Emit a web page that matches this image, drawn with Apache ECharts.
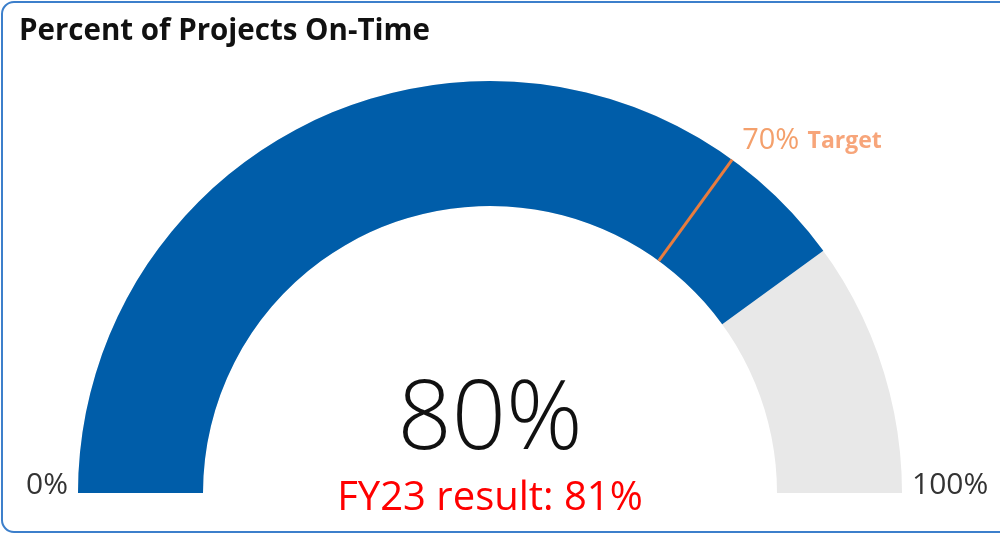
<!DOCTYPE html>
<html>
<head>
<meta charset="utf-8">
<script src="https://cdn.jsdelivr.net/npm/echarts@6/dist/echarts.min.js"></script>
<style>
  html, body { margin: 0; padding: 0; background: #fff; overflow: hidden; }
  #main { width: 1000px; height: 535px; }
</style>
</head>
<body>
<div id="main"></div>
<script type="text/javascript">
    // gauge data
    var scaleRange = [0, 100];        // min / max of the dial
    var actualValues = [80];          // current percent on-time
    var targetValues = [70];          // target marker
    var priorLabels = ['FY23 result'];
    var priorValues = [81];

    var myChart = echarts.init(document.getElementById('main'));

    var cx = 490, cy = 493, outerR = 412, bandW = 125;

    myChart.setOption({
        animation: false,
        title: {
            text: 'Percent of Projects On-Time',
            left: 14,
            top: 12,
            textStyle: { fontFamily: 'Open Sans', fontWeight: 'bold', fontSize: 29.5, color: '#111' }
        },
        graphic: [{
            type: 'rect',
            shape: { x: 2, y: 2, width: 1010, height: 530, r: 12 },
            style: { fill: 'none', stroke: '#3C7FCB', lineWidth: 2 },
            silent: true
        }],
        series: [{
            // main dial
            type: 'gauge',
            z: 2,
            center: [cx, cy],
            radius: outerR,
            startAngle: 180,
            endAngle: 0,
            min: scaleRange[0],
            max: scaleRange[1],
            splitNumber: 1,
            axisLine: { lineStyle: { width: bandW, color: [[1, '#E8E8E8']] } },
            progress: { show: true, width: bandW, itemStyle: { color: '#005DA9' } },
            pointer: { show: false },
            anchor: { show: false },
            axisTick: { show: false },
            splitLine: { show: false },
            axisLabel: {
                distance: -110,
                padding: [0, 0, 16, 0],
                fontFamily: 'Open Sans',
                fontSize: 30,
                color: '#333',
                formatter: function (v) {
                    return v === scaleRange[0] ? '{l|' + v + '%}' : '{r|' + v + '%}';
                },
                rich: {
                    l: { width: 80, align: 'right', fontFamily: 'Open Sans', fontSize: 30, color: '#333' },
                    r: { width: 80, align: 'left', fontFamily: 'Open Sans', fontSize: 30, color: '#333' }
                }
            },
            title: {
                offsetCenter: [0, 6],
                fontFamily: 'Open Sans',
                fontSize: 40,
                color: '#FF0000'
            },
            detail: {
                offsetCenter: [0, -71],
                formatter: '{value}%',
                fontFamily: 'Open Sans',
                fontWeight: 300,
                fontSize: 95,
                color: '#111'
            },
            data: [{ value: actualValues[0], name: priorLabels[0] + ': ' + priorValues[0] + '%' }]
        }, {
            // target marker
            type: 'gauge',
            z: 5,
            center: [cx, cy],
            radius: outerR,
            startAngle: 180,
            endAngle: 0,
            min: scaleRange[0],
            max: scaleRange[1],
            axisLine: { show: false },
            axisTick: { show: false },
            splitLine: { show: false },
            axisLabel: { show: false },
            anchor: { show: false },
            pointer: {
                show: true,
                icon: 'rect',
                length: bandW,
                width: 3,
                offsetCenter: [0, -(outerR - bandW)],
                itemStyle: { color: '#E97C3E' }
            },
            title: { show: false },
            detail: {
                offsetCenter: [322, -352],
                formatter: function (v) { return '{a|' + v + '%} {b|Target}'; },
                rich: {
                    a: { fontFamily: 'Open Sans', fontWeight: 'normal', fontSize: 29, color: '#F4A06C' },
                    b: { fontFamily: 'Open Sans', fontWeight: 'bold', fontSize: 23, color: '#F7A57A' }
                }
            },
            data: [{ value: targetValues[0] }]
        }]
    });
</script>
</body>
</html>
